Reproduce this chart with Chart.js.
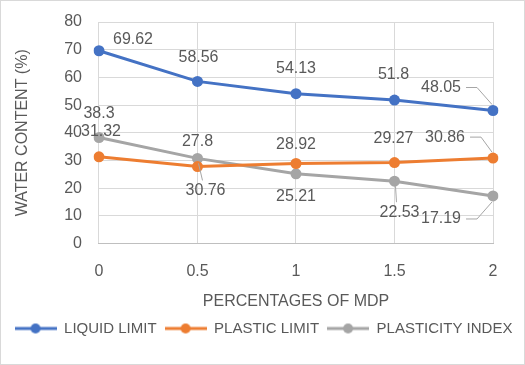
<!DOCTYPE html>
<html><head><meta charset="utf-8">
<script src="https://cdn.jsdelivr.net/npm/chart.js@4/dist/chart.umd.min.js"></script>
<style>html,body{margin:0;padding:0;background:#fff}#wrap{width:525px;height:365px;position:relative}</style>
</head><body><div id="wrap"><canvas id="c" width="525" height="365"></canvas></div>
<script>
const categories = ['0', '0.5', '1', '1.5', '2'];
const liquidLimit = [69.62, 58.56, 54.13, 51.8, 48.05];
const plasticLimit = [31.32, 27.8, 28.92, 29.27, 30.86];
const plasticityIndex = [38.3, 30.76, 25.21, 22.53, 17.19];
const seriesNames = ['LIQUID LIMIT', 'PLASTIC LIMIT', 'PLASTICITY INDEX'];
const colors = ['#4472C4', '#ED7D31', '#A5A5A5'];
const TXT = '#595959';
const FONT = "'Liberation Sans', Arial, sans-serif";

// label placement (pixel offsets of label centre from point); third flag draws a leader line
const labelOffsets = [
  [[34,-11],[1,-24],[0,-25],[-1,-26],[-52,-23,true]],
  [[2,-25],[0,-25],[0,-19],[-1,-24],[-48,-21,true]],
  [[0,-24],[8,32,true],[0,23],[5,31,true],[-52,23,true]]
];

function legendIcon(color){
  const cv = document.createElement('canvas');
  cv.width = 42; cv.height = 12;
  const g = cv.getContext('2d');
  g.strokeStyle = color; g.lineWidth = 3;
  g.beginPath(); g.moveTo(0,6); g.lineTo(42,6); g.stroke();
  g.fillStyle = color; g.beginPath(); g.arc(21,6,5,0,Math.PI*2); g.fill();
  return cv;
}

const labelPlugin = {
  id: 'dl',
  afterDatasetsDraw(chart){
    const ctx = chart.ctx;
    ctx.save();
    ctx.font = '16px ' + FONT;
    ctx.fillStyle = TXT;
    ctx.textAlign = 'center';
    ctx.textBaseline = 'middle';
    chart.data.datasets.forEach((ds, di) => {
      const meta = chart.getDatasetMeta(di);
      meta.data.forEach((pt, i) => {
        const off = labelOffsets[di][i];
        const lx = pt.x + off[0], ly = pt.y + off[1];
        const txt = String(ds.data[i]);
        if (off[2]) {
          ctx.strokeStyle = '#A6A6A6'; ctx.lineWidth = 1;
          ctx.beginPath();
          if (off[0] < -20) {
            const w = ctx.measureText(txt).width;
            const sx = lx + w/2 + 5;
            ctx.moveTo(sx, ly); ctx.lineTo(sx + 11, ly);
            ctx.lineTo(pt.x - 1, pt.y + (off[1] < 0 ? -6 : 6));
          } else {
            ctx.moveTo(pt.x + 1, pt.y + 5);
            ctx.lineTo(lx - 3, ly - 10);
          }
          ctx.stroke();
        }
        ctx.fillText(txt, lx, ly);
      });
    });
    ctx.restore();
  }
};

const borderPlugin = {
  id: 'frame',
  beforeDraw(chart){
    const ctx = chart.ctx;
    ctx.save();
    ctx.fillStyle = '#fff';
    ctx.fillRect(0,0,chart.width,chart.height);
    ctx.strokeStyle = '#D9D9D9'; ctx.lineWidth = 1;
    ctx.strokeRect(0.5,0.5,chart.width-1,chart.height-1);
    ctx.restore();
  }
};

const series = [liquidLimit, plasticLimit, plasticityIndex];
new Chart(document.getElementById('c'), {
  type: 'line',
  data: {
    labels: categories,
    datasets: series.map((d, i) => ({
      label: seriesNames[i],
      data: d,
      borderColor: colors[i],
      backgroundColor: colors[i],
      borderWidth: 3,
      pointStyle: 'circle',
      pointRadius: 5.5,
      pointHoverRadius: 5.5,
      pointBorderWidth: 0,
      tension: 0,
      yAxisID: 'y'
    }))
  },
  options: {
    responsive: false,
    animation: false,
    devicePixelRatio: 1,
    layout: { padding: { left: 4, right: 2, top: 22, bottom: 19 } },
    plugins: {
      tooltip: { enabled: false },
      legend: {
        position: 'bottom',
        labels: {
          usePointStyle: true,
          pointStyleWidth: 42,
          boxHeight: 12,
          padding: 8,
          color: TXT,
          font: { family: FONT, size: 15 },
          generateLabels(chart){
            return chart.data.datasets.map((ds, i) => ({
              text: ds.label, pointStyle: legendIcon(colors[i]),
              fillStyle: colors[i], strokeStyle: colors[i], lineWidth: 0,
              fontColor: TXT, datasetIndex: i, hidden: false
            }));
          }
        }
      }
    },
    scales: {
      x: {
        type: 'category',
        offset: false,
        grid: { color: '#D9D9D9', drawTicks: false },
        border: { color: '#BFBFBF', width: 1 },
        ticks: { color: TXT, font: { family: FONT, size: 16 }, padding: 18 },
        title: { display: true, text: 'PERCENTAGES OF MDP', color: TXT, font: { family: FONT, size: 16 }, padding: { top: -7, bottom: 2 } }
      },
      y: {
        min: 0, max: 80,
        ticks: { stepSize: 10, color: TXT, font: { family: FONT, size: 16 }, padding: 17 },
        grid: { color: '#D9D9D9', drawTicks: false },
        border: { display: false },
        title: { display: true, text: 'WATER CONTENT (%)', color: TXT, font: { family: FONT, size: 16 }, padding: { top: 9, bottom: 15 } },
        afterFit(scale){ scale.paddingTop = 0; scale.paddingBottom = 0; }
      },
      yR: {
        position: 'right',
        min: 0, max: 80,
        grid: { display: false, drawTicks: false },
        border: { display: false },
        ticks: { display: false },
        afterFit(scale){ scale.width = 30; scale.paddingTop = 0; scale.paddingBottom = 0; }
      }
    }
  },
  plugins: [borderPlugin, labelPlugin]
});
</script></body></html>
